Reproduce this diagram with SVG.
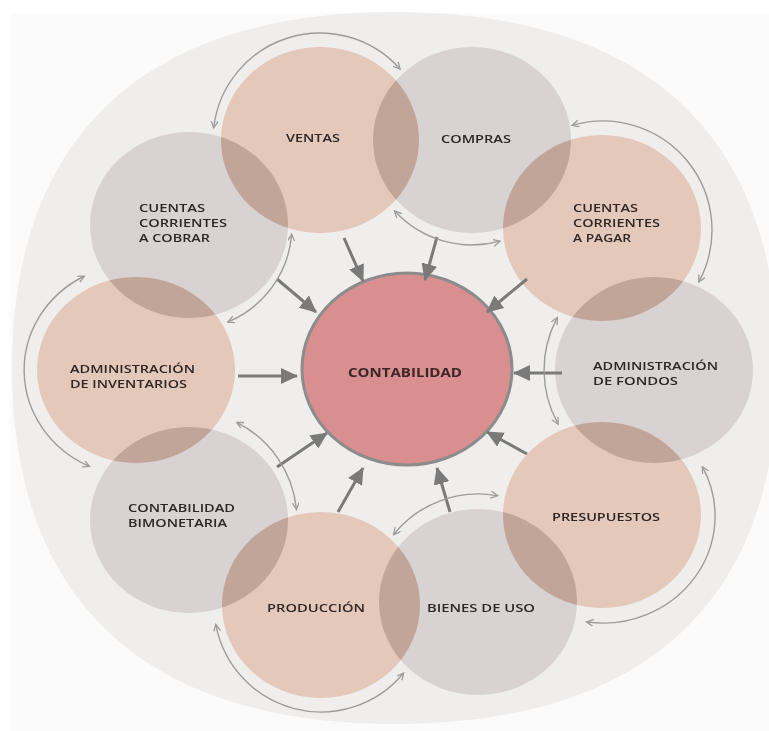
<svg xmlns="http://www.w3.org/2000/svg" width="769" height="731" viewBox="0 0 769 731">
<style>
.tan{fill:#e4c9ba;mix-blend-mode:multiply}
.gry{fill:#d8d2d2;mix-blend-mode:multiply}
.lbl{font-family:"Open Sans","Liberation Sans",sans-serif;font-size:11.5px;font-weight:600;fill:#2e2626}
.mid{text-anchor:middle}
.arr{stroke:#7a7a7a;stroke-width:3;fill:none}
.arc{stroke:#9c9c9c;stroke-width:1.4;fill:none}
</style>
<defs>
<marker id="head" markerUnits="userSpaceOnUse" markerWidth="18" markerHeight="16" refX="16" refY="8" orient="auto">
<path d="M0,0 L17,8 L0,16 Z" fill="#7a7a7a"/>
</marker>
<marker id="sh" markerUnits="userSpaceOnUse" markerWidth="8" markerHeight="8" refX="6" refY="3.5" orient="auto-start-reverse">
<path d="M0,0 L7,3.5 L0,7" fill="none" stroke="#9c9c9c" stroke-width="1.3"/>
</marker>
</defs>
<rect x="0" y="0" width="769" height="731" fill="#ffffff"/>
<rect x="10" y="13" width="759" height="718" fill="#fbfbfb"/>
<path d="M778,368 C778,600 646,724 395,724 C144,724 12,600 12,368 C12,136 144,12 395,12 C646,12 778,136 778,368 Z" fill="#efeeed"/>
<g id="nodes" style="isolation:isolate">
<g id="ventas"><ellipse class="tan" cx="320" cy="140" rx="99" ry="93"/></g>
<g id="compras"><ellipse class="gry" cx="472" cy="140" rx="99" ry="93"/></g>
<g id="cuentas-pagar"><ellipse class="tan" cx="602" cy="228" rx="99" ry="93"/></g>
<g id="admin-fondos"><ellipse class="gry" cx="654" cy="370" rx="99" ry="93"/></g>
<g id="presupuestos"><ellipse class="tan" cx="602" cy="515" rx="99" ry="93"/></g>
<g id="bienes-uso"><ellipse class="gry" cx="478" cy="602" rx="99" ry="93"/></g>
<g id="produccion"><ellipse class="tan" cx="321" cy="605" rx="99" ry="93"/></g>
<g id="bimonetaria"><ellipse class="gry" cx="189" cy="520" rx="99" ry="93"/></g>
<g id="inventarios"><ellipse class="tan" cx="136" cy="370" rx="99" ry="93"/></g>
<g id="cuentas-cobrar"><ellipse class="gry" cx="189" cy="225" rx="99" ry="93"/></g>
</g>
<g id="labels">
<text class="lbl mid" x="313" y="141.5" textLength="54" lengthAdjust="spacingAndGlyphs">VENTAS</text>
<text class="lbl mid" x="476" y="142.5" textLength="70" lengthAdjust="spacingAndGlyphs">COMPRAS</text>
<text class="lbl" x="573" y="211.5" textLength="65" lengthAdjust="spacingAndGlyphs">CUENTAS</text>
<text class="lbl" x="573" y="226.5" textLength="87" lengthAdjust="spacingAndGlyphs">CORRIENTES</text>
<text class="lbl" x="573" y="241.5" textLength="58" lengthAdjust="spacingAndGlyphs">A PAGAR</text>
<text class="lbl" x="593" y="369.5" textLength="125" lengthAdjust="spacingAndGlyphs">ADMINISTRACIÓN</text>
<text class="lbl" x="593" y="385" textLength="85" lengthAdjust="spacingAndGlyphs">DE FONDOS</text>
<text class="lbl mid" x="606" y="520.5" textLength="108" lengthAdjust="spacingAndGlyphs">PRESUPUESTOS</text>
<text class="lbl mid" x="481" y="611.5" textLength="108" lengthAdjust="spacingAndGlyphs">BIENES DE USO</text>
<text class="lbl mid" x="316" y="611.5" textLength="98" lengthAdjust="spacingAndGlyphs">PRODUCCIÓN</text>
<text class="lbl" x="128" y="511.5" textLength="107" lengthAdjust="spacingAndGlyphs">CONTABILIDAD</text>
<text class="lbl" x="128" y="526.5" textLength="99" lengthAdjust="spacingAndGlyphs">BIMONETARIA</text>
<text class="lbl" x="70" y="372.8" textLength="125" lengthAdjust="spacingAndGlyphs">ADMINISTRACIÓN</text>
<text class="lbl" x="70" y="387.8" textLength="117" lengthAdjust="spacingAndGlyphs">DE INVENTARIOS</text>
<text class="lbl" x="139" y="211.5" textLength="66" lengthAdjust="spacingAndGlyphs">CUENTAS</text>
<text class="lbl" x="139" y="226.5" textLength="88" lengthAdjust="spacingAndGlyphs">CORRIENTES</text>
<text class="lbl" x="139" y="241.5" textLength="71" lengthAdjust="spacingAndGlyphs">A COBRAR</text>
</g>
<g id="contabilidad">
<ellipse cx="407" cy="369" rx="105" ry="96" fill="#d98e8f" stroke="#8c8c8c" stroke-width="3"/>
<text x="405" y="376.5" text-anchor="middle" textLength="114" lengthAdjust="spacingAndGlyphs" font-family="'Open Sans','Liberation Sans',sans-serif" font-size="13" font-weight="700" fill="#3a2626">CONTABILIDAD</text>
</g>
<g id="connectors">
<line class="arr" x1="344" y1="238" x2="363" y2="281" marker-end="url(#head)"/>
<line class="arr" x1="437" y1="237" x2="425" y2="280" marker-end="url(#head)"/>
<line class="arr" x1="277" y1="279" x2="316" y2="312" marker-end="url(#head)"/>
<line class="arr" x1="238" y1="376" x2="297" y2="376" marker-end="url(#head)"/>
<line class="arr" x1="277" y1="467" x2="327" y2="433" marker-end="url(#head)"/>
<line class="arr" x1="338" y1="512" x2="363" y2="468" marker-end="url(#head)"/>
<line class="arr" x1="450" y1="512" x2="437" y2="468" marker-end="url(#head)"/>
<line class="arr" x1="527" y1="454" x2="487" y2="432" marker-end="url(#head)"/>
<line class="arr" x1="562" y1="373" x2="514" y2="373" marker-end="url(#head)"/>
<line class="arr" x1="527" y1="279" x2="487" y2="312" marker-end="url(#head)"/>
<path class="arc" d="M213.8,127 A107,107 0 0 1 399.5,68.4" marker-start="url(#sh)" marker-end="url(#sh)"/>
<path class="arc" d="M395.2,211.6 A105,105 0 0 0 499.2,241.4" marker-start="url(#sh)" marker-end="url(#sh)"/>
<path class="arc" d="M573,125.2 A109,109 0 0 1 699.2,281.2" marker-start="url(#sh)" marker-end="url(#sh)"/>
<path class="arc" d="M556.9,318.4 A110,110 0 0 0 557.8,423.3" marker-start="url(#sh)" marker-end="url(#sh)"/>
<path class="arc" d="M702.8,467.4 A112,107 0 0 1 587.4,622" marker-start="url(#sh)" marker-end="url(#sh)"/>
<path class="arc" d="M394.1,534 A108,108 0 0 1 496.8,495.6" marker-start="url(#sh)" marker-end="url(#sh)"/>
<path class="arc" d="M216,625.4 A107,107 0 0 0 403,673.8" marker-start="url(#sh)" marker-end="url(#sh)"/>
<path class="arc" d="M237.5,422.9 A109,109 0 0 1 296.4,508.6" marker-start="url(#sh)" marker-end="url(#sh)"/>
<path class="arc" d="M88.7,466.1 A112,106 0 0 1 83.5,276.5" marker-start="url(#sh)" marker-end="url(#sh)"/>
<path class="arc" d="M291.6,235.1 A104,104 0 0 1 228.6,321.7" marker-start="url(#sh)" marker-end="url(#sh)"/>
</g>
</svg>
